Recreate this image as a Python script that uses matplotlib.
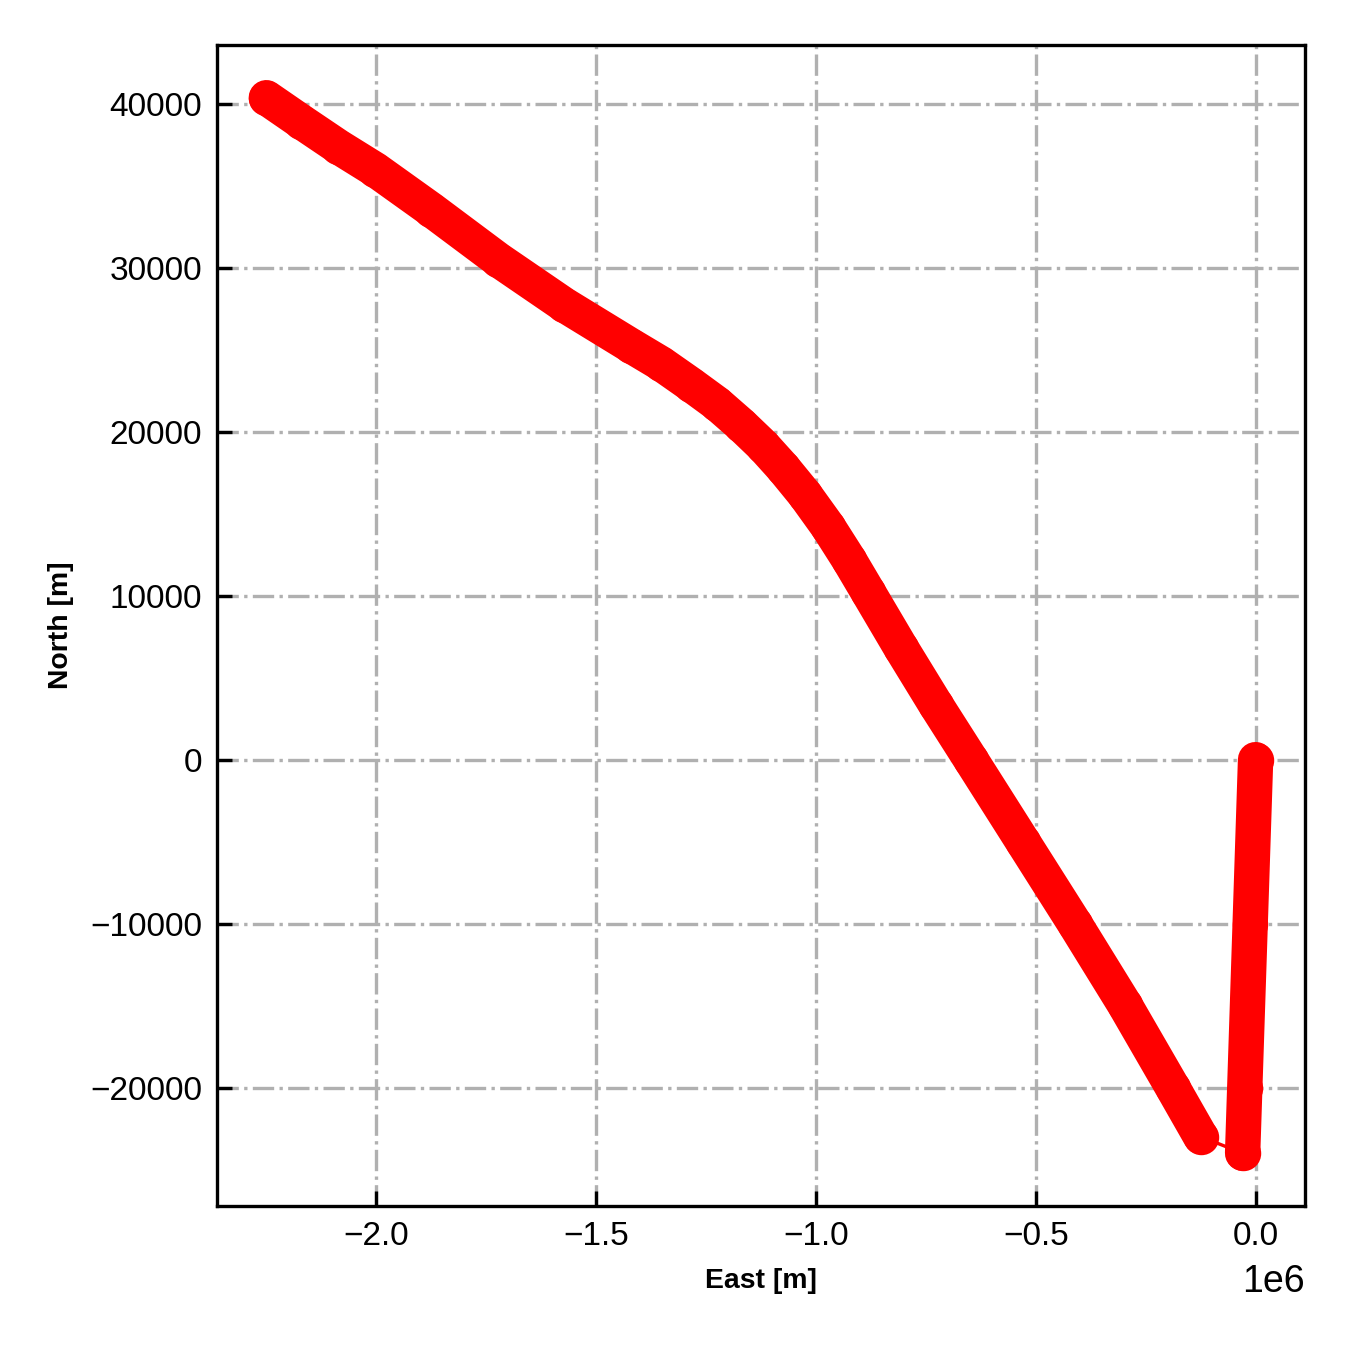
import numpy as np
import matplotlib.pyplot as plt

plt.rcParams['font.family'] = ['Liberation Sans', 'DejaVu Sans']
plt.rcParams['xtick.labelsize'] = 9
plt.rcParams['ytick.labelsize'] = 9

# Track (metres)
# leg 1: from origin heading south
east_leg1 = [0, -12300, -24600, -29500]
north_leg1 = [0, -10000, -20000, -24000]

# leg 2: long track towards north-west
east_leg2 = [-125000, -188600, -297700, -411400, -529500, -647700, -727300,
             -806800, -881800, -925000, -972700, -1025000, -1075000,
             -1120500, -1170400, -1225000, -1284100, -1352300, -1420400,
             -1572700, -1722700, -1875000, -2002200, -2086300, -2170400,
             -2250000]
north_leg2 = [-22990, -20000, -14940, -10000, -5000, 0, 3350,
              6830, 10240, 12200, 14210, 16160, 17800,
              19150, 20430, 21710, 22870, 24150, 25240,
              27740, 30490, 33540, 35980, 37380, 38900,
              40370]

east = np.array(east_leg1 + east_leg2)
north = np.array(north_leg1 + north_leg2)

fig = plt.figure(figsize=(4.5, 4.5), dpi=300)
ax = fig.add_axes([0.1607, 0.1067, 0.806, 0.86])

# thin connecting line + markers
ax.plot(east, north, color='red', lw=0.8, marker='o', ms=7.5, mew=1)
# dense marker trail drawn as wide round-capped strokes
for xs, ys in [(east_leg1, north_leg1), (east_leg2, north_leg2)]:
    ax.plot(xs, ys, color='red', lw=8.5, solid_capstyle='round',
            solid_joinstyle='round')

ax.set_xlabel('East [m]', fontsize=6.8, fontweight='bold')
ax.set_ylabel('North [m]', fontsize=6.8, fontweight='bold')
ax.tick_params(direction='in', labelsize=8)
ax.grid(True, linestyle='-.', color='#b0b0b0', lw=0.8)

plt.savefig('out.png', dpi=300)
